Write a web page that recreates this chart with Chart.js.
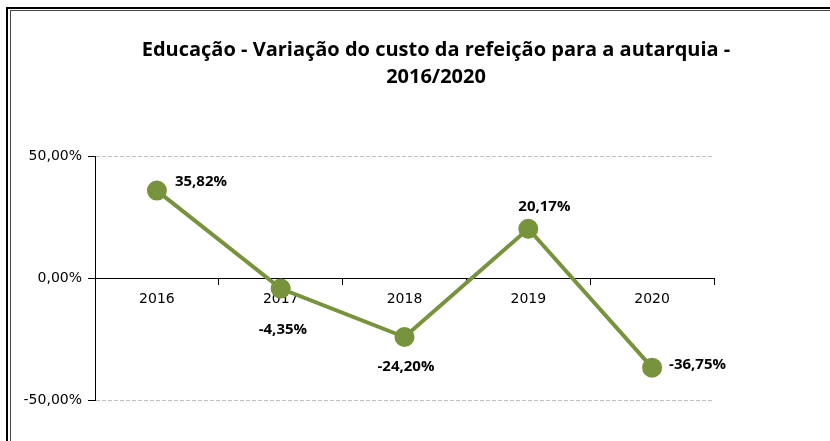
<!DOCTYPE html>
<html>
<head>
<meta charset="utf-8">
<script src="https://cdn.jsdelivr.net/npm/chart.js@4.4.1/dist/chart.umd.min.js"></script>
<style>
	body { margin: 0; background: #fff; }
	#wrap { position: relative; width: 830px; height: 441px; overflow: hidden; }
	#myChart { position: absolute; left: 0; top: 0; }
	.frameOuter { position: absolute; left: 6px; top: 7px; width: 900px; height: 500px; border-top: 2px solid #000; border-left: 2px solid #000; pointer-events: none; }
	.frameInner { position: absolute; left: 10px; top: 10px; width: 900px; height: 500px; border-top: 1px solid #444; border-left: 1px solid #444; pointer-events: none; }
	.title { position: absolute; left: 136px; width: 600px; top: 35px; text-align: center; font-family: "Open Sans", sans-serif; font-weight: bold; font-size: 20px; line-height: 27px; color: #000; white-space: nowrap; }
</style>
</head>
<body>
<div id="wrap">
	<canvas id="myChart" width="830" height="441"></canvas>
	<div class="title" id="chartTitle"></div>
	<div class="frameOuter"></div>
	<div class="frameInner"></div>
</div>
<script>
//+++++++++++++++++++++++ Start:data +++++++++++++++++++++++
var years = ['2016', '2017', '2018', '2019', '2020'];
var variation = [35.82, -4.35, -24.20, 20.17, -36.75];
var yTicks = [-50, 0, 50];
var titleLines = ['Educação - Variação do custo da refeição para a autarquia -', '2016/2020'];
//-------------------- End:data --------------------

var green = '#77933C';

function pct(v) {
	return v.toFixed(2).replace('.', ',') + '%';
}

// title as html text, one line per entry
var titleEl = document.getElementById('chartTitle');
titleLines.forEach(function (line, i) {
	if (i > 0) titleEl.appendChild(document.createElement('br'));
	titleEl.appendChild(document.createTextNode(line));
});

// label offsets from each point (x = left edge of text, y = middle)
var labelOffsets = [[18, -9], [-22, 41], [-27, 30], [-10, -22], [17, -3]];

//++++++++++++++++++++++ Start:labels plugin ++++++++++++++++++++++
var valueLabels = {
	id: 'valueLabels',
	afterDatasetsDraw: function (chart) {
		var ctx = chart.ctx;
		var meta = chart.getDatasetMeta(0);
		ctx.save();
		ctx.font = 'bold 15px "Open Sans"';
		ctx.fillStyle = '#000';
		ctx.textAlign = 'left';
		ctx.textBaseline = 'middle';
		meta.data.forEach(function (pt, i) {
			var off = labelOffsets[i];
			ctx.fillText(pct(variation[i]), pt.x + off[0], pt.y + off[1]);
		});
		ctx.restore();
	}
};
//-------------------- End:labels plugin --------------------

//++++++++++++++++++++++ Start:Chartjs ++++++++++++++++++++++
var ctx = document.getElementById('myChart').getContext('2d');
var chart = new Chart(ctx, {
	type: 'line',
	data: {
		labels: years,
		datasets: [{
			data: variation,
			borderColor: green,
			backgroundColor: green,
			borderWidth: 4,
			pointRadius: 8,
			pointHoverRadius: 8,
			pointBackgroundColor: green,
			pointBorderColor: green,
			fill: false,
			tension: 0
		}]
	},
	options: {
		responsive: false,
		animation: false,
		layout: {
			padding: { left: 0, right: 116, top: 156, bottom: 41 }
		},
		plugins: {
			legend: { display: false },
			tooltip: { enabled: false },
			title: { display: false }
		},
		scales: {
			x: {
				position: { y: 0 },
				offset: true,
				border: { color: '#000', width: 1 },
				grid: {
					offset: true,
					drawOnChartArea: false,
					drawTicks: true,
					tickLength: 6,
					color: '#000'
				},
				ticks: {
					color: '#000',
					font: { family: '"DejaVu Sans"', size: 14 },
					padding: 7,
					maxRotation: 0
				}
			},
			y: {
				min: -50,
				max: 50,
				afterFit: function (scale) { scale.width = 95; },
				afterBuildTicks: function (scale) {
					scale.ticks = yTicks.map(function (v) { return { value: v }; });
				},
				border: { color: '#000', width: 1, dash: [4, 2] },
				grid: {
					color: '#bfbfbf',
					tickColor: '#000',
					tickBorderDash: [],
					tickLength: 7
				},
				ticks: {
					color: '#000',
					font: { family: '"DejaVu Sans"', size: 14 },
					padding: 6,
					callback: function (v) { return pct(v); }
				}
			}
		}
	},
	plugins: [valueLabels]
});
//-------------------- End:Chartjs --------------------
</script>
</body>
</html>
